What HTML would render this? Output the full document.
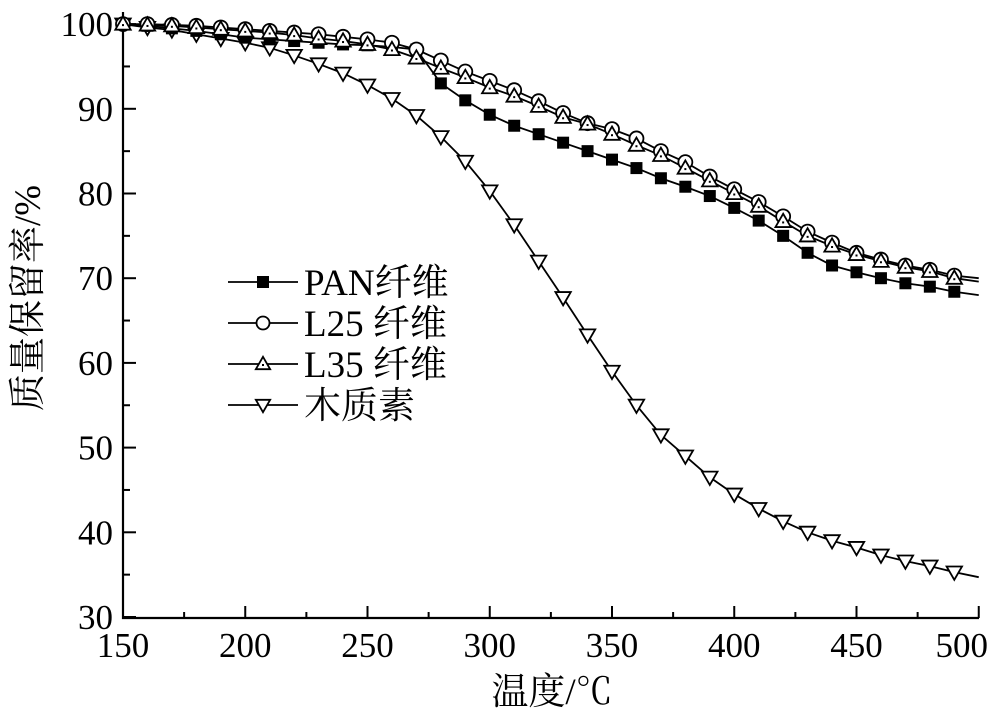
<!DOCTYPE html>
<html><head><meta charset="utf-8"><style>
html,body{margin:0;padding:0;background:#fff;}
svg{display:block;}
text{font-family:"Liberation Serif","Noto Serif CJK SC","Noto Sans CJK SC",serif;fill:#000;}
</style></head><body>
<svg id="s" width="1000" height="721" xmlns="http://www.w3.org/2000/svg"></svg>
<script>
const s=document.getElementById('s');
const X=v=>123+(v-150)*2.445, Y=v=>617-(v-30)*8.47;
let h='';
h+=`<path d="M123 12 V618 H979" fill="none" stroke="#000" stroke-width="2.2"/>`;
for(let v=150;v<=500;v+=25){const x=X(v),big=v%50==0;h+=`<line x1="${x}" y1="618" x2="${x}" y2="${big?606:612}" stroke="#000" stroke-width="2"/>`;
 if(big){ if(v==500)h+=`<text x="988" y="657" font-size="35" text-anchor="end">${v}</text>`;
  else h+=`<text x="${x}" y="657" font-size="35" text-anchor="middle">${v}</text>`;}}
for(let v=30;v<=100;v+=5){const y=Y(v),big=v%10==0;h+=`<line x1="123" y1="${y}" x2="${big?136:130}" y2="${y}" stroke="#000" stroke-width="2"/>`;
 if(big)h+=`<text x="113" y="${y+12}" font-size="35" text-anchor="end">${v}</text>`;}
h+=`<text x="552" y="704" font-size="37" text-anchor="middle">温度/℃</text>`;
h+=`<text transform="translate(40,298) rotate(-90)" font-size="37" text-anchor="middle">质量保留率/%</text>`;
const xs=[];for(let t=150;t<=500;t+=10)xs.push(t);
const PAN=[100,99.8,99.5,99.2,98.8,98.4,98.2,98,97.8,97.6,97.5,97.3,97,93,91,89.3,88,87,86,85,84,83,81.8,80.8,79.7,78.3,76.8,75,73,71.5,70.7,70,69.4,69,68.4,68];
const L25=[100,100,99.9,99.8,99.6,99.4,99.2,99,98.8,98.5,98.2,97.8,97,95.7,94.4,93.3,92.2,90.9,89.5,88.3,87.6,86.5,85,83.7,82,80.5,79,77.3,75.5,74.2,73,72.2,71.5,71,70.3,70];
const L35=[100,99.9,99.8,99.6,99.4,99.2,99,98.7,98.3,98,97.6,97,96,94.8,93.7,92.5,91.5,90.3,89,88.2,87,85.7,84.5,83,81.5,80,78.5,76.7,75,73.8,72.8,72,71.3,70.8,70,69.6];
const LIG=[100,99.6,99.3,98.8,98.3,97.8,97.2,96.3,95.3,94.2,92.8,91.2,89.2,86.7,83.8,80.3,76.3,72,67.7,63.3,59,55,51.5,49,46.5,44.5,42.8,41.3,40,39,38.2,37.3,36.6,36,35.3,34.7];
function mk(t,x,y,r){
 if(t==0)return `<rect x="${x-r}" y="${y-r}" width="${2*r}" height="${2*r}" fill="#000"/>`;
 if(t==1)return `<circle cx="${x}" cy="${y}" r="${r}" fill="#fff" stroke="#000" stroke-width="1.8"/>`;
 if(t==2)return `<path d="M${x} ${y-r*1.1}L${x+r*1.1} ${y+r*0.8}L${x-r*1.1} ${y+r*0.8}Z" fill="#fff" stroke="#000" stroke-width="1.8"/><rect x="${x-1}" y="${y}" width="2" height="2" fill="#000"/>`;
 return `<path d="M${x} ${y+r*1.1}L${x+r*1.1} ${y-r*0.8}L${x-r*1.1} ${y-r*0.8}Z" fill="#fff" stroke="#000" stroke-width="1.8"/>`;
}
const S=[[PAN,0],[L25,1],[L35,2],[LIG,3]];
S.forEach(([d])=>{h+=`<polyline fill="none" stroke="#000" stroke-width="1.8" points="${d.map((v,i)=>X(xs[i])+','+Y(v)).join(' ')}"/>`;});
[3,0,1,2].forEach(k=>{const [d,t]=S[k];d.forEach((v,i)=>{if(xs[i]<500)h+=mk(t,X(xs[i]),Y(v),t==0?6:7);});});
const names=['PAN纤维','L25 纤维','L35 纤维','木质素'];
[282,323,364,405].forEach((y,i)=>{h+=`<line x1="228" y1="${y}" x2="298" y2="${y}" stroke="#000" stroke-width="1.8"/>`+mk(i,263,y,i==0?6:6.5)+`<text x="304" y="${y+13}" font-size="37">${names[i]}</text>`;});
s.innerHTML=h;
</script>
</body></html>
